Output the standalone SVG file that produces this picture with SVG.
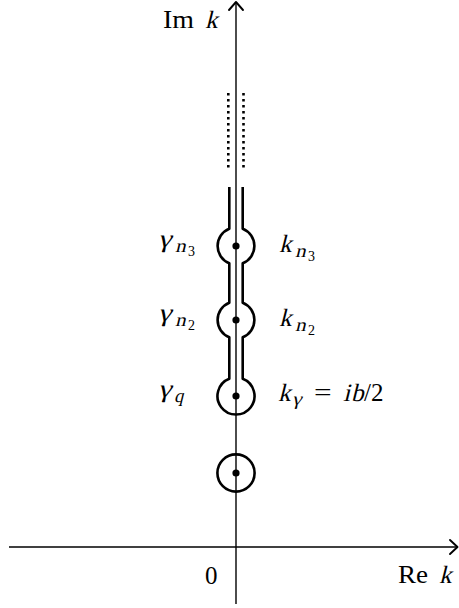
<svg xmlns="http://www.w3.org/2000/svg" width="459" height="608" viewBox="0 0 459 608">
<style>
.ax{stroke:#000;stroke-width:1.4;fill:none}
.ah{stroke:#000;stroke-width:1.9;fill:none;stroke-linecap:round;stroke-linejoin:round}
.ct{stroke:#000;stroke-width:2.6;fill:none;stroke-linejoin:round}
.dt{stroke:#000;stroke-width:2.6;fill:none;stroke-dasharray:2.4 3.6}
.t{font-family:"Liberation Serif","Times New Roman",serif;font-size:25px;fill:#000}
.s{font-size:18.5px}
.ss{font-size:14px}
</style>
<rect width="459" height="608" fill="#fff"/>
<g id="axes">
<line class="ax" x1="9" y1="547" x2="457" y2="547"/>
<polyline class="ah" points="450,540 457.5,547 450,554"/>
<line class="ax" x1="236" y1="604" x2="236" y2="2"/>
<polyline class="ah" points="229,10 236,2 243,10"/>
</g>
<g id="contour">
<path class="ct" d="M229.3,187 L229.3,228.8 A18.5,18.5 0 0 0 229.3,263.2 L229.3,302.8 A18.5,18.5 0 0 0 229.3,337.2 L229.3,378.8 A18.5,18.5 0 1 0 242.7,378.8 L242.7,337.2 A18.5,18.5 0 0 0 242.7,302.8 L242.7,263.2 A18.5,18.5 0 0 0 242.7,228.8 L242.7,187"/>
<line class="dt" x1="228.3" y1="93" x2="228.3" y2="168"/>
<line class="dt" x1="243.5" y1="93" x2="243.5" y2="168"/>
</g>
<g id="pole-n3"><circle cx="236" cy="246" r="3.6"/></g>
<g id="pole-n2"><circle cx="236" cy="320" r="3.6"/></g>
<g id="pole-q"><circle cx="236" cy="396" r="3.6"/></g>
<g id="pole-0"><circle class="ct" cx="236" cy="473" r="18.6"/><circle cx="236" cy="473" r="3.6"/></g>
<g id="labels">
<text class="t" x="163" y="28" textLength="31" lengthAdjust="spacingAndGlyphs">Im</text><text class="t" transform="translate(205,28) skewX(-14)">k</text>
<text class="t" x="398" y="583" textLength="30" lengthAdjust="spacingAndGlyphs">Re</text><text class="t" transform="translate(439,583) skewX(-14)">k</text>
<text class="t" x="205" y="584">0</text>
<text class="t" transform="translate(158,247) skewX(-14) scale(1.2,1)">γ</text><text class="t s" transform="translate(175,252) skewX(-14) scale(1.15,1)">n</text><text class="t ss" x="188" y="256">3</text>
<text class="t" transform="translate(158,321) skewX(-14) scale(1.2,1)">γ</text><text class="t s" transform="translate(175,326) skewX(-14) scale(1.15,1)">n</text><text class="t ss" x="188" y="330">2</text>
<text class="t" transform="translate(158,397) skewX(-14) scale(1.2,1)">γ</text><text class="t s" transform="translate(174,402) skewX(-14)">q</text>
<text class="t" transform="translate(279,252) skewX(-14)">k</text><text class="t s" transform="translate(295,257) skewX(-14) scale(1.15,1)">n</text><text class="t ss" x="308" y="261">3</text>
<text class="t" transform="translate(279,326) skewX(-14)">k</text><text class="t s" transform="translate(295,331) skewX(-14) scale(1.15,1)">n</text><text class="t ss" x="308" y="335">2</text>
<text class="t" transform="translate(278,401) skewX(-14)">k</text><text class="t s" transform="translate(292,405) skewX(-14) scale(1.15,1)">γ</text>
<text class="t" transform="translate(314,401) scale(1.25,1)">=</text><text class="t" transform="translate(343,401) skewX(-14)">i</text><text class="t" transform="translate(351,401) skewX(-14)">b</text><text class="t" x="364" y="401">/</text><text class="t" x="371" y="401">2</text>
</g>
</svg>
